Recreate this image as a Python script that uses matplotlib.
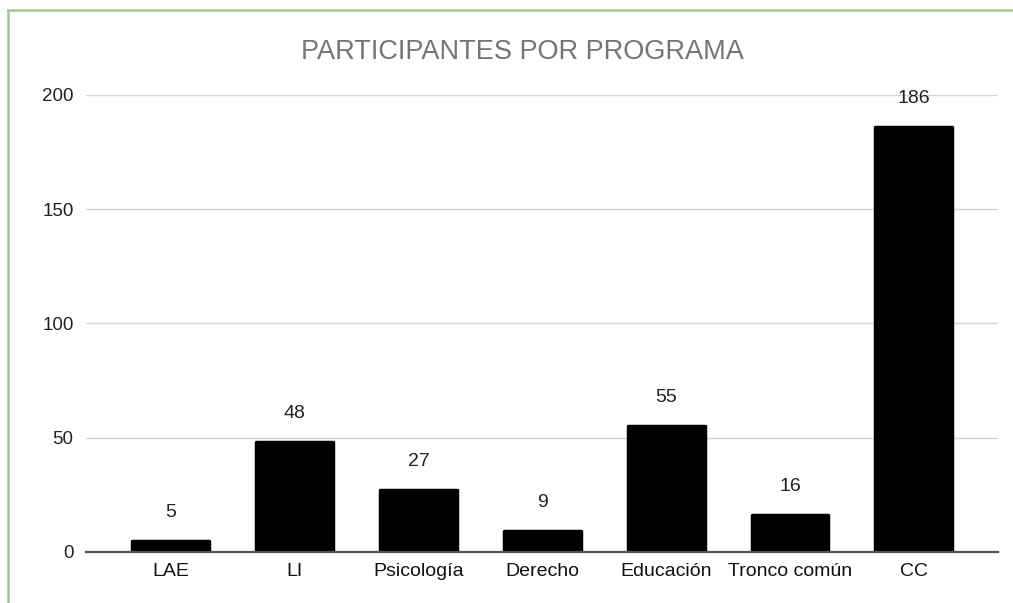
import numpy as np
import matplotlib
matplotlib.use("Agg")
from matplotlib import pyplot as plt
from matplotlib.lines import Line2D

programas = ['LAE', 'LI', 'Psicología', 'Derecho', 'Educación', 'Tronco común', 'CC']
participantes = [5, 48, 27, 9, 55, 16, 186]
y_ticks = [0, 50, 100, 150, 200]

plt.rcParams['font.family'] = ['Liberation Sans', 'DejaVu Sans']

fig = plt.figure(figsize=(10.13, 6.03), dpi=100)
ax = fig.add_axes([0.0849, 0.0846, 0.9003, 0.7579])

x = np.arange(len(programas))
# bordes redondeados con joinstyle
bars = ax.bar(x, participantes, width=0.62, color='black', edgecolor='black',
              linewidth=2.5, joinstyle='round', zorder=3)

for xi, v in zip(x, participantes):
    ax.annotate(str(v), (xi, v), xytext=(0, 20.5), textcoords='offset points',
                ha='center', va='center', fontsize=14, color='#222222')

ax.set_xlim(-0.685, 6.68)
ax.set_ylim(0, 200)
ax.set_yticks(y_ticks)
ax.set_xticks(x)
ax.set_xticklabels(programas, fontsize=14)
ax.tick_params(axis='y', labelsize=13.5, length=0, pad=9, colors='#222222')
ax.tick_params(axis='x', length=0, pad=8, colors='#111111')
ax.grid(axis='y', color='#d3d3d3', linewidth=1, zorder=0)
for s in ['top', 'right', 'left']:
    ax.spines[s].set_visible(False)
ax.spines['bottom'].set_color('#555555')
ax.spines['bottom'].set_linewidth(1.6)
ax.spines['bottom'].set_zorder(4)

fig.text(0.516, 0.913, 'PARTICIPANTES POR PROGRAMA', ha='center', va='center',
         fontsize=19.5, color='#757575')

# marco verde
fig.add_artist(Line2D([0.008, 0.008], [0.0, 0.984], color='#9ccf84', linewidth=1.8,
                      transform=fig.transFigure))
fig.add_artist(Line2D([0.008, 1.0], [0.984, 0.984], color='#9ccf84', linewidth=1.8,
                      transform=fig.transFigure))

fig.savefig('out.png', dpi=100)
